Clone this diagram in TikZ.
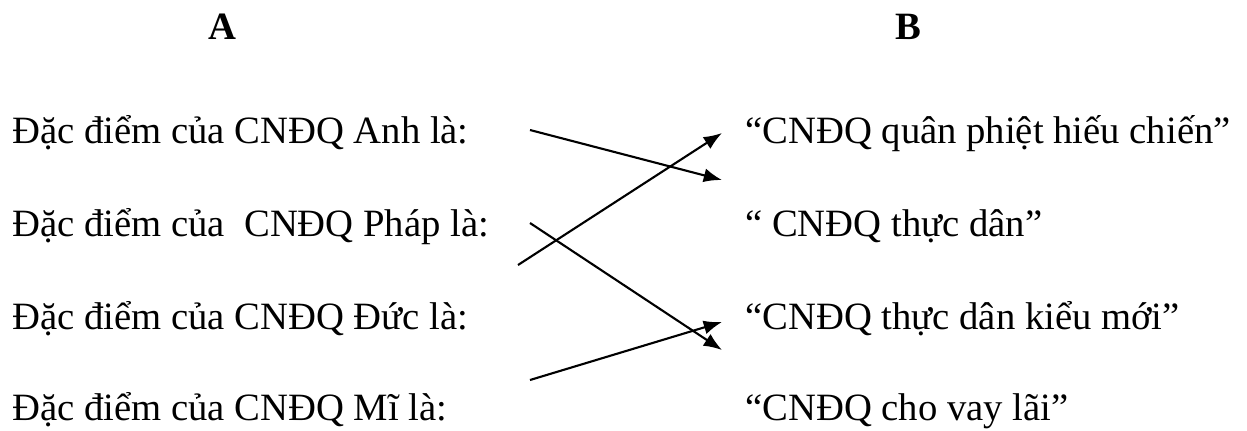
\documentclass[tikz,border=0pt]{standalone}
\usepackage{fontspec}
\setmainfont{Liberation Serif}
\usetikzlibrary{arrows.meta}

\begin{document}
\begin{tikzpicture}[x=0.025cm,y=-0.025cm,>={Latex[length=13pt,width=10pt]},
  item/.style={anchor=base west,inner sep=0pt,font=\fontsize{27.5}{32}\selectfont},
  head/.style={anchor=base,inner sep=0pt,font=\fontsize{27.5}{32}\selectfont\bfseries},
  link/.style={->,line width=1.5pt}]
  \useasboundingbox (0,0) rectangle (1247,430);

  % column headings
  \node[head] (hA) at (222,39) {A};
  \node[head] (hB) at (908,39) {B};

  % column A
  \node[item] (a1) at (12,143) {Đặc điểm của CNĐQ Anh là:};
  \node[item] (a2) at (12,236) {Đặc điểm của \ CNĐQ Pháp là:};
  \node[item] (a3) at (12,329) {Đặc điểm của CNĐQ Đức là:};
  \node[item] (a4) at (12,420) {Đặc điểm của CNĐQ Mĩ là:};

  % column B
  \node[item] (b1) at (745,143) {“CNĐQ quân phiệt hiếu chiến”};
  \node[item] (b2) at (745,236) {“ CNĐQ thực dân”};
  \node[item] (b3) at (745,329) {“CNĐQ thực dân kiểu mới”};
  \node[item] (b4) at (745,420) {“CNĐQ cho vay lãi”};

  % free ends of the arrows
  \coordinate (s1) at (530,130);
  \coordinate (t1) at (722,180);
  \coordinate (s2) at (518,265);
  \coordinate (t2) at (722,133);
  \coordinate (s3) at (530,223);
  \coordinate (t3) at (722,350);
  \coordinate (s4) at (530,380);
  \coordinate (t4) at (722,322);

  % matching arrows
  \draw[link] (s1) -- (t1);
  \draw[link] (s2) -- (t2);
  \draw[link] (s3) -- (t3);
  \draw[link] (s4) -- (t4);
\end{tikzpicture}
\end{document}
